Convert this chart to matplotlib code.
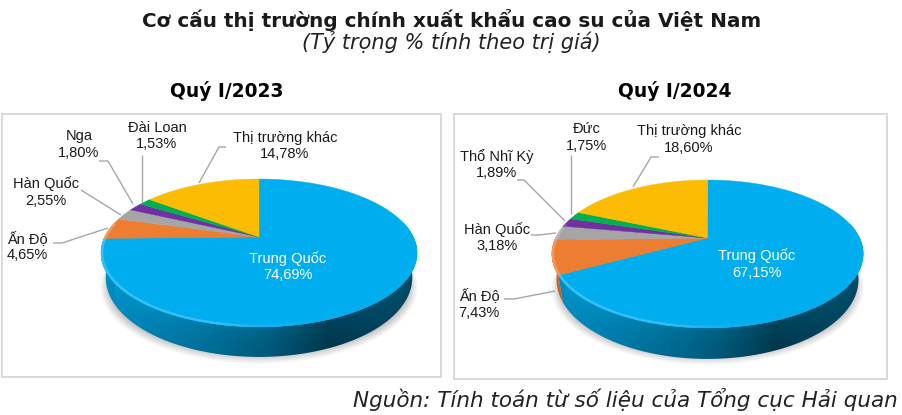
import matplotlib
matplotlib.use("Agg")
import matplotlib.pyplot as plt
import numpy as np
from matplotlib.collections import LineCollection
from matplotlib.colors import to_rgb
from matplotlib.patches import Polygon, Rectangle, Ellipse

# Data
labels_2023 = ["Trung Quốc", "Ấn Độ", "Hàn Quốc", "Nga", "Đài Loan", "Thị trường khác"]
values_2023 = [74.69, 4.65, 2.55, 1.80, 1.53, 14.78]
labels_2024 = ["Trung Quốc", "Ấn Độ", "Hàn Quốc", "Thổ Nhĩ Kỳ", "Đức", "Thị trường khác"]
values_2024 = [67.15, 7.43, 3.18, 1.89, 1.75, 18.60]
colors = ["#00AEEF", "#ED7D31", "#A5A5A5", "#7030A0", "#00B050", "#FCBC04"]

LABEL_FONT = "Liberation Sans"
TITLE_FONT = "DejaVu Sans"

fig = plt.figure(figsize=(9.03, 4.15), dpi=100)
ax = fig.add_axes([0, 0, 1, 1])
ax.set_xlim(0, 903)
ax.set_ylim(415, 0)
ax.axis("off")


def project(theta, cx, cy, a, b, k):
    # theta clockwise from 12 o'clock, simple perspective on the disc
    u = np.sin(theta)
    v = -np.cos(theta)
    w = 1 - k * v
    return cx + a * u / w, cy + b * v / w, w


def wall_shade(t, f):
    # t -1 (left) .. 1 (right), f 0 (top of wall) .. 1 (bottom)
    s = np.interp(t, [-1, -0.37, 0.05, 0.43, 1], [0.86, 0.68, 0.55, 0.36, 0.46])
    return s + 0.05 * np.exp(-f * 5) - 0.04 * f


def draw_pie(values, cx, cy, a, b, k, depth, rx):
    fracs = np.array(values) / sum(values)
    edges = np.concatenate([[0], np.cumsum(fracs)]) * 2 * np.pi

    # soft shadow under the pie
    for i in range(12):
        ax.add_patch(Ellipse((cx, cy + 50), 2 * (rx - 8) + 1.6 * i, 2 * 68 + 1.6 * i,
                             color="black", alpha=0.018, lw=0, zorder=2))

    # shade map for the side wall, one image per slice clipped to its strip
    th_all = np.linspace(-np.pi / 2 - 0.2, np.pi / 2 + 0.2, 600) + np.pi
    xr, yr, wr = project(th_all, cx, cy, a, b, k)
    dr = depth * (1 - k) / wr
    order = np.argsort(xr)
    px = np.arange(cx - rx - 2, cx + rx + 2, 0.5)
    py = np.arange(cy, cy + 130, 0.5)
    gx, gy = np.meshgrid(px, py)
    ytop = np.interp(gx, xr[order], yr[order])
    dtop = np.interp(gx, xr[order], dr[order])
    f = np.clip((gy - ytop) / dtop, 0, 1)
    shade = wall_shade((gx - cx) / rx, f)
    extent = (px[0], px[-1], py[-1], py[0])

    for n, col in enumerate(colors):
        th = np.linspace(edges[n], edges[n + 1], max(8, int(fracs[n] * 600)))
        th = th[-np.cos(th) > -0.45]
        if len(th) < 2:
            continue
        x, y, w = project(th, cx, cy, a, b, k)
        d = depth * (1 - k) / w
        xl = cx + (x - cx) * 0.97
        strip = np.column_stack([np.r_[x, xl[::-1]], np.r_[y, (y + d)[::-1]]])
        patch = Polygon(strip, closed=True, transform=ax.transData)
        rgb = np.clip(np.array(to_rgb(col))[None, None, :] * shade[:, :, None], 0, 1)
        im = ax.imshow(rgb, extent=extent, aspect="auto", zorder=3, interpolation="bilinear")
        im.set_clip_path(patch)
    ax.set_xlim(0, 903)
    ax.set_ylim(415, 0)

    # top face
    for n, col in enumerate(colors):
        th = np.linspace(edges[n], edges[n + 1], max(8, int(fracs[n] * 600)))
        x, y, w = project(th, cx, cy, a, b, k)
        pts = np.column_stack([np.r_[cx, x], np.r_[cy, y]])
        ax.add_patch(Polygon(pts, closed=True, facecolor=col, edgecolor=col, lw=0.3, zorder=4))

    # lighter bevel just inside the front rim
    for n, col in enumerate(colors):
        base = np.array(to_rgb(col))
        th = np.linspace(edges[n], edges[n + 1], max(8, int(fracs[n] * 600)))
        th = th[-np.cos(th) > -0.2]
        if len(th) < 2:
            continue
        x, y, w = project(th, cx, cy, a, b, k)
        pts = np.column_stack([cx + (x - cx) * 0.993, cy + (y - cy) * 0.987])
        segs = [pts[i:i + 2] for i in range(len(th) - 1)]
        tt = (x[:-1] - cx) / rx
        amt = np.interp(tt, [-1, -0.3, 0.1, 0.5], [0.22, 0.2, 0.06, 0.0])
        scols = [tuple(base + (1 - base) * m) for m in amt]
        ax.add_collection(LineCollection(segs, colors=scols, linewidths=1.6, zorder=5, capstyle="round"))


def leader(pts):
    xs, ys = zip(*pts)
    ax.plot(xs, ys, color="#A6A6A6", lw=1.0, zorder=6, solid_capstyle="butt")


def label(x, y, name, val, color="#1a1a1a"):
    txt = "%s\n%s%%" % (name, ("%.2f" % val).replace(".", ","))
    ax.text(x, y, txt, ha="center", va="center", fontsize=10.5, family=LABEL_FONT,
            color=color, linespacing=1.2, zorder=7)


# Panels
ax.add_patch(Rectangle((2.5, 113.5), 439, 263.5, fc="white", ec="#D9D9D9", lw=1.4, zorder=1))
ax.add_patch(Rectangle((454.5, 113.5), 432.5, 265.5, fc="white", ec="#D9D9D9", lw=1.4, zorder=1))

draw_pie(values_2023, 259, 237, 154.3, 70.5, 0.216, 30, 158)
draw_pie(values_2024, 707.5, 238, 152, 70.5, 0.216, 31, 155.5)

# Left labels
label(288, 266.5, labels_2023[0], values_2023[0], "white")
label(27, 246.5, labels_2023[1], values_2023[1])
label(46, 192, labels_2023[2], values_2023[2])
label(79, 144.5, labels_2023[3], values_2023[3])
label(157, 136, labels_2023[4], values_2023[4])
label(285, 146, labels_2023[5], values_2023[5])
leader([(53, 243), (62, 243), (108, 228)])
leader([(81, 190), (121, 215)])
leader([(99, 161), (108, 161), (133, 204)])
leader([(142, 155), (142, 202)])
leader([(226, 147), (219, 147), (199, 183)])

# Right labels
label(757, 264, labels_2024[0], values_2024[0], "white")
label(479, 304, labels_2024[1], values_2024[1])
label(497, 237.5, labels_2024[2], values_2024[2])
label(497, 164.5, labels_2024[3], values_2024[3])
label(587, 137.5, labels_2024[4], values_2024[4])
label(689, 139.5, labels_2024[5], values_2024[5])
leader([(504, 299), (514, 299), (555, 291)])
leader([(531, 235), (539, 235), (556, 233)])
leader([(517, 180), (524, 180), (565, 221)])
leader([(571, 155), (571, 214)])
leader([(659, 157), (651, 157), (633, 187)])

# Titles
ax.text(451.5, 20, "Cơ cấu thị trường chính xuất khẩu cao su của Việt Nam", ha="center", va="center",
        fontsize=14.4, fontweight="bold", family=TITLE_FONT, color="#1a1a1a")
ax.text(451, 42, "(Tỷ trọng % tính theo trị giá)", ha="center", va="center",
        fontsize=15, style="italic", family=TITLE_FONT, color="#222222")
ax.text(227, 91, "Quý I/2023", ha="center", va="center", fontsize=13.4, fontweight="bold",
        family=TITLE_FONT, color="black")
ax.text(675, 91, "Quý I/2024", ha="center", va="center", fontsize=13.4, fontweight="bold",
        family=TITLE_FONT, color="black")
ax.text(898, 399, "Nguồn: Tính toán từ số liệu của Tổng cục Hải quan", ha="right", va="center",
        fontsize=15.5, style="italic", family=TITLE_FONT, color="#222222")

fig.savefig("out.png", dpi=100)
